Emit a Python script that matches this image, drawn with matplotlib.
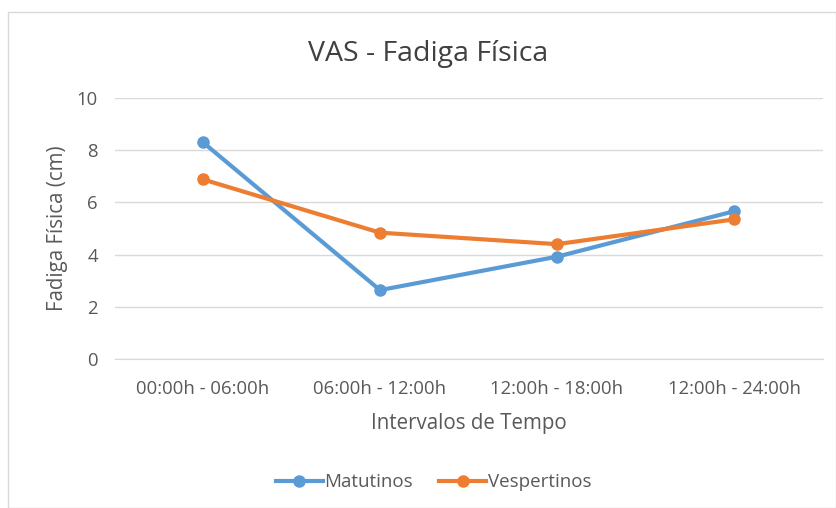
import matplotlib.pyplot as plt
from matplotlib.patches import Rectangle

categorias = ['00:00h - 06:00h', '06:00h - 12:00h', '12:00h - 18:00h', '12:00h - 24:00h']
matutinos = [8.30, 2.64, 3.92, 5.66]
vespertinos = [6.88, 4.84, 4.40, 5.35]

plt.rcParams['font.family'] = ['Open Sans', 'DejaVu Sans']
cinza = '#595959'

fig = plt.figure(figsize=(8.37, 5.08), dpi=100)
fig.patches.append(Rectangle((0.009, 0.0), 0.99, 0.976, transform=fig.transFigure,
                             fill=False, edgecolor='#d9d9d9', linewidth=1))
ax = fig.add_axes([0.1368, 0.2933, 0.8459, 0.5138])

x = range(len(categorias))
ax.plot(x, matutinos, color='#5b9bd5', lw=3, marker='o', ms=8, label='Matutinos')
ax.plot(x, vespertinos, color='#ed7d31', lw=3, marker='o', ms=8, label='Vespertinos')

ax.set_xlim(-0.5, 3.5)
ax.set_ylim(0, 10)
ax.set_yticks(range(0, 11, 2))
ax.set_xticks(list(x))
ax.set_xticklabels(categorias)
ax.grid(axis='y', color='#d9d9d9', lw=1)
ax.set_axisbelow(True)
for s in ['top', 'right', 'left']:
    ax.spines[s].set_visible(False)
ax.spines['bottom'].set_color('#d9d9d9')
ax.tick_params(length=0, labelsize=13.3, colors=cinza, pad=15)
ax.tick_params(axis='y', pad=12)

fig.text(0.512, 0.894, 'VAS - Fadiga Física', fontsize=20.5, color='#404040',
         ha='center', va='center')
ax.set_xlabel('Intervalos de Tempo', fontsize=14.8, color=cinza, labelpad=11)
ax.set_ylabel('Fadiga Física (cm)', fontsize=14.8, color=cinza, labelpad=6)

fig.legend(loc='center', bbox_to_anchor=(0.518, 0.051), ncol=2, frameon=False,
           fontsize=13.5, labelcolor=cinza, handlelength=2.5, handletextpad=0.1,
           columnspacing=1.4)

fig.savefig('out.png', dpi=100)
